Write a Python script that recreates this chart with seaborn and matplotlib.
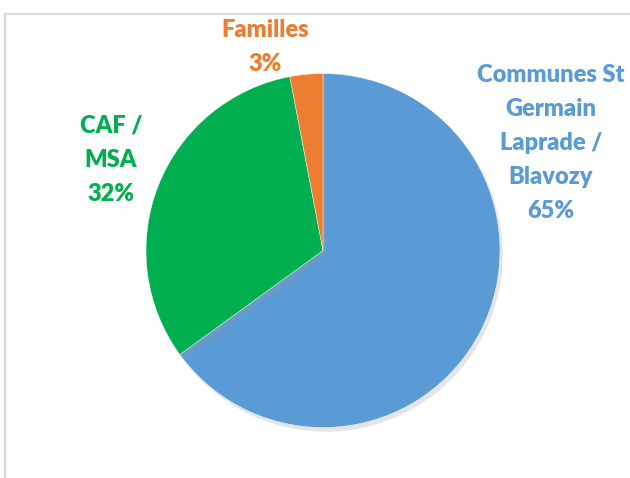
import matplotlib
matplotlib.use('Agg')
import matplotlib.pyplot as plt
import matplotlib.patheffects as pe
from matplotlib.lines import Line2D
import seaborn as sns

sns.set_theme(style='white')
plt.rcParams['font.family'] = ['Lato', 'DejaVu Sans']

# Données
categories = ['Communes St\nGermain\nLaprade /\nBlavozy', 'CAF /\nMSA', 'Familles']
valeurs = [65, 32, 3]
couleurs = ['#5B9BD5', '#00B050', '#ED7D31']

W, H = 630, 478
fig = plt.figure(figsize=(W / 100, H / 100), dpi=100)
ax = fig.add_axes([0, 0, 1, 1])

wedges, _ = ax.pie(valeurs, colors=couleurs, startangle=90, counterclock=False,
                   center=(323, H - 250.5), radius=177,
                   wedgeprops=dict(linewidth=0.3, edgecolor='white'))
for w in wedges:
    w.set_path_effects([pe.SimplePatchShadow(offset=(2, -3), shadow_rgbFace='#999999', alpha=0.25),
                        pe.Normal()])

ax.set_xlim(0, W)
ax.set_ylim(0, H)
ax.set_aspect('equal')
ax.axis('off')

# Étiquettes (position en pixels depuis le haut)
positions = [(551, 143), (111, 160), (265, 47)]
for cat, val, col, (x, y) in zip(categories, valeurs, couleurs, positions):
    ax.text(x, H - y, f'{cat}\n{val}%', color=col, fontsize=17, fontweight='heavy',
            ha='center', va='center', linespacing=1.68)

# Cadre gris
fig.add_artist(Line2D([5 / W, 5 / W], [0, 1 - 14 / H], color='#d9d9d9', lw=1.6,
                      transform=fig.transFigure))
fig.add_artist(Line2D([5 / W, 1], [1 - 14 / H, 1 - 14 / H], color='#d9d9d9', lw=1.6,
                      transform=fig.transFigure))

fig.savefig('out.png', dpi=100)
